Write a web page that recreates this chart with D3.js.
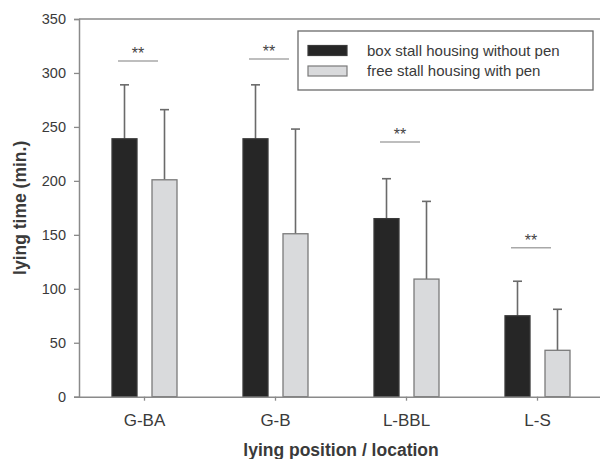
<!DOCTYPE html>
<html>
<head>
<meta charset="utf-8">
<script src="https://cdn.jsdelivr.net/npm/d3@7"></script>
<style>
  html, body { margin: 0; padding: 0; background: #fff; }
  svg { display: block; font-family: "Liberation Sans", Arial, sans-serif; }
</style>
</head>
<body>
<svg id="chart" width="600" height="459"></svg>
<script>
// Lying time per lying position / location, mean + SD (minutes)
const categories = ["G-BA", "G-B", "L-BBL", "L-S"];
const series = ["box stall housing without pen", "free stall housing with pen"];
const boxStallMean = [239, 239, 165, 75];
const boxStallSD   = [50, 50, 37, 32];
const freeStallMean = [201, 151, 109, 43];
const freeStallSD   = [65, 97, 72, 38];
const yTicks = [0, 50, 100, 150, 200, 250, 300, 350];
// significance brackets: height in minutes and label
const sigLevel = [311, 313, 236, 138];
const sigLabel = ["**", "**", "**", "**"];

const svg = d3.select("#chart");
const margin = { left: 79, top: 19, right: 603, bottom: 396.7 };

const x0 = d3.scaleBand().domain(categories).range([margin.left, margin.right]);
const x1 = d3.scaleBand().domain(series).range([-32.5, 32.5]).paddingInner(0.375);
const y = d3.scaleLinear().domain([0, 350]).range([margin.bottom, margin.top]);

const axisColor = "#8a8a8a";
const textColor = "#3a3a3a";

const rows = categories.map((c, i) => ({
  cat: c,
  bars: [
    { s: series[0], mean: boxStallMean[i], sd: boxStallSD[i] },
    { s: series[1], mean: freeStallMean[i], sd: freeStallSD[i] }
  ],
  sig: sigLevel[i],
  label: sigLabel[i]
}));
const fills = { [series[0]]: "#262626", [series[1]]: "#d9dadc" };
const strokes = { [series[0]]: "#3a3a3a", [series[1]]: "#7a7a7a" };

// error bars (drawn first so bars cover their base)
const g = svg.append("g");
rows.forEach(r => {
  const cx = x0(r.cat) + x0.bandwidth() / 2;
  r.bars.forEach(b => {
    const bx = cx + x1(b.s) + x1.bandwidth() / 2;
    g.append("line")
      .attr("x1", bx).attr("x2", bx)
      .attr("y1", y(b.mean)).attr("y2", y(b.mean + b.sd))
      .attr("stroke", "#6a6a6a").attr("stroke-width", 1.6);
    g.append("line")
      .attr("x1", bx - 4.5).attr("x2", bx + 4.5)
      .attr("y1", y(b.mean + b.sd)).attr("y2", y(b.mean + b.sd))
      .attr("stroke", "#6a6a6a").attr("stroke-width", 1.6);
  });
});

// bars
rows.forEach(r => {
  const cx = x0(r.cat) + x0.bandwidth() / 2;
  g.selectAll(null).data(r.bars).enter().append("rect")
    .attr("x", d => cx + x1(d.s))
    .attr("y", d => y(d.mean))
    .attr("width", x1.bandwidth())
    .attr("height", d => y(0) - y(d.mean))
    .attr("fill", d => fills[d.s])
    .attr("stroke", d => strokes[d.s])
    .attr("stroke-width", 1.3);
});

// significance lines with stars
rows.forEach(r => {
  const cx = x0(r.cat) + x0.bandwidth() / 2 - 6.5;
  svg.append("line")
    .attr("x1", cx - 20).attr("x2", cx + 20)
    .attr("y1", y(r.sig)).attr("y2", y(r.sig))
    .attr("stroke", "#a8a8a8").attr("stroke-width", 1.5);
  svg.append("text")
    .attr("x", cx).attr("y", y(r.sig) - 2)
    .attr("text-anchor", "middle")
    .attr("font-size", 16).attr("fill", "#444")
    .text(r.label);
});

// frame lines: top
svg.append("line")
  .attr("x1", margin.left).attr("x2", 600)
  .attr("y1", margin.top).attr("y2", margin.top)
  .attr("stroke", axisColor).attr("stroke-width", 1.5);

// y axis
const yAxis = svg.append("g")
  .attr("transform", `translate(${margin.left},0)`)
  .call(d3.axisLeft(y).tickValues(yTicks).tickSize(5).tickPadding(8));
yAxis.select(".domain").attr("stroke", axisColor).attr("stroke-width", 1.5);
yAxis.selectAll(".tick line").attr("stroke", axisColor).attr("stroke-width", 1.3);
yAxis.selectAll(".tick text")
  .attr("font-size", 14.5).attr("fill", textColor)
  .attr("font-family", "Liberation Sans, Arial, sans-serif");

// x axis
const xAxis = svg.append("g")
  .attr("transform", `translate(0,${margin.bottom})`)
  .call(d3.axisBottom(x0).tickSize(4).tickPadding(13).tickSizeOuter(0));
xAxis.select(".domain").attr("stroke", axisColor).attr("stroke-width", 1.5);
xAxis.selectAll(".tick line").attr("stroke", axisColor).attr("stroke-width", 1.3);
xAxis.selectAll(".tick text")
  .attr("font-size", 17).attr("fill", textColor)
  .attr("font-family", "Liberation Sans, Arial, sans-serif");

// axis titles
svg.append("text")
  .attr("x", (margin.left + margin.right) / 2).attr("y", 456)
  .attr("text-anchor", "middle")
  .attr("font-size", 17.5).attr("font-weight", "bold").attr("fill", textColor)
  .text("lying position / location");
svg.append("text")
  .attr("transform", `translate(26,${(margin.top + margin.bottom) / 2}) rotate(-90)`)
  .attr("text-anchor", "middle")
  .attr("font-size", 17.5).attr("font-weight", "bold").attr("fill", textColor)
  .text("lying time (min.)");

// legend
const lg = svg.append("g");
lg.append("rect")
  .attr("x", 298).attr("y", 31).attr("width", 295).attr("height", 59)
  .attr("fill", "#fff").attr("stroke", "#6a6a6a").attr("stroke-width", 1.3);
series.forEach((s, i) => {
  const yy = 50.5 + i * 20.5;
  lg.append("rect")
    .attr("x", 308).attr("y", yy - 5).attr("width", 39).attr("height", 10)
    .attr("fill", fills[s]).attr("stroke", strokes[s]).attr("stroke-width", 1.2);
  lg.append("text")
    .attr("x", 367).attr("y", yy + 5)
    .attr("font-size", 15).attr("fill", textColor)
    .text(s);
});
</script>
</body>
</html>
